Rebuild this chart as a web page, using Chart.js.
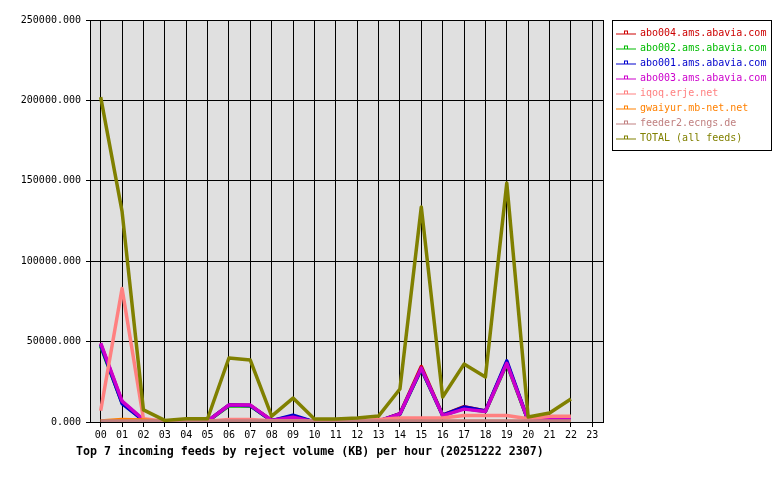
<!DOCTYPE html>
<html>
<head>
<meta charset="utf-8">
<script src="https://cdn.jsdelivr.net/npm/chart.js@4/dist/chart.umd.min.js"></script>
<style>
  html, body { margin: 0; padding: 0; background: #fff; }
  #wrap { width: 780px; height: 480px; }
</style>
</head>
<body>
<div id="wrap"><canvas id="feedChart" width="780" height="480"></canvas></div>
<script>
// hours of the day
const hours = ["00","01","02","03","04","05","06","07","08","09","10","11",
               "12","13","14","15","16","17","18","19","20","21","22","23"];

// reject volume in KB per hour
const abo004 = [48500,12500,1200,0,0,500,10500,10300,900,3500,0,0,0,500,5200,34500,4300,9500,6800,37000,900,1200,1200,null];
const abo002 = [47000,12000,1000,0,0,400,10000,10000,800,3000,0,0,0,400,4800,33000,4000,8500,6500,36000,800,1000,1000,null];
const abo001 = [48000,11500,1000,0,0,500,10500,10200,800,4200,0,0,0,500,5000,33000,4200,9300,6800,38000,800,1000,1000,null];
const abo003 = [49000,13000,1500,0,0,500,10500,10500,1000,3000,0,0,0,500,5000,33500,4000,8000,6500,36500,1000,2500,2500,null];
const iqoq = [7000,83000,2000,500,500,500,1500,1500,800,800,500,500,500,1500,2500,2500,2500,4000,4000,4000,2000,3500,3500,null];
const gwaiyur = [600,1500,1200,200,100,100,200,200,100,100,100,100,100,200,300,300,300,300,300,300,200,300,300,null];
const feeder2 = [600,600,600,600,600,600,600,600,600,600,600,600,600,600,600,600,600,600,600,600,600,600,600,null];
const total = [202000,131000,7500,1000,2000,2000,39800,38500,3700,14900,1900,1900,2500,3700,20500,133700,15500,36000,28000,148600,3100,5600,14300,null];

const yTicks = [0, 50000, 100000, 150000, 200000, 250000];

const titleText = "Top 7 incoming feeds by reject volume (KB) per hour (20251222 2307)";

const series = [
  { label: "abo004.ams.abavia.com", data: abo004, color: "#cc0000" },
  { label: "abo002.ams.abavia.com", data: abo002, color: "#00bb00" },
  { label: "abo001.ams.abavia.com", data: abo001, color: "#0000cc" },
  { label: "abo003.ams.abavia.com", data: abo003, color: "#cc00cc" },
  { label: "iqoq.erje.net", data: iqoq, color: "#ff8080" },
  { label: "gwaiyur.mb-net.net", data: gwaiyur, color: "#ff8000" },
  { label: "feeder2.ecngs.de", data: feeder2, color: "#c08080" },
  { label: "TOTAL (all feeds)", data: total, color: "#808000" }
];

// little line-with-square legend marker
function makeMarker(color) {
  const c = document.createElement("canvas");
  c.width = 29; c.height = 7;
  const g = c.getContext("2d");
  g.fillStyle = color;
  g.fillRect(9, 4, 20, 1);
  g.strokeStyle = color;
  g.lineWidth = 1;
  g.strokeRect(17.5, 1.5, 3, 3);
  return c;
}
const markers = series.map(s => makeMarker(s.color));

Chart.defaults.font.family = "'DejaVu Sans Mono', monospace";
Chart.defaults.font.size = 10;
Chart.defaults.color = "#000";

const frame = {
  id: "frame",
  beforeDraw(chart) {
    const { ctx, chartArea: a } = chart;
    ctx.save();
    ctx.fillStyle = "#e0e0e0";
    ctx.fillRect(a.left, a.top, a.right - a.left, a.bottom - a.top);
    ctx.restore();
  },
  afterDraw(chart) {
    const { ctx, chartArea: a, legend } = chart;
    ctx.save();
    ctx.strokeStyle = "#000";
    ctx.lineWidth = 1;
    ctx.strokeRect(Math.round(a.left) + 0.5, Math.round(a.top) + 0.5,
                   Math.round(a.right - a.left), Math.round(a.bottom - a.top));
    // legend box
    ctx.strokeRect(Math.round(legend.left) + 9.5, Math.round(legend.top) + 0.5, 159, 130);
    // bottom caption
    ctx.fillStyle = "#000";
    ctx.font = "bold 11.6px 'DejaVu Sans Mono', monospace";
    ctx.textBaseline = "middle";
    ctx.textAlign = "left";
    ctx.fillText(titleText, 76, 452);
    ctx.restore();
  }
};

new Chart(document.getElementById("feedChart"), {
  type: "line",
  data: {
    labels: hours,
    datasets: series.map((s, i) => ({
      label: s.label,
      data: s.data,
      borderColor: s.color,
      backgroundColor: s.color,
      borderWidth: 3.5,
      borderJoinStyle: "round",
      pointRadius: 0,
      tension: 0,
      fill: false,
      order: series.length - 1 - i
    }))
  },
  plugins: [frame],
  options: {
    responsive: false,
    animation: false,
    layout: { padding: { top: 20, right: 3.6, bottom: 0, left: 0 } },
    plugins: {
      tooltip: { enabled: false },
      title: { display: false },
      legend: {
        position: "right",
        align: "start",
        title: { display: true, text: "", padding: 0, font: { size: 2.5 } },
        labels: {
          usePointStyle: true,
          pointStyleWidth: 27,
          boxHeight: 10,
          padding: 5,
          font: { size: 10 },
          sort: (a, b) => a.datasetIndex - b.datasetIndex,
          generateLabels(chart) {
            const items = Chart.defaults.plugins.legend.labels.generateLabels(chart);
            items.forEach(it => {
              it.fontColor = series[it.datasetIndex].color;
              it.pointStyle = markers[it.datasetIndex];
            });
            return items;
          }
        }
      }
    },
    scales: {
      x: {
        type: "category",
        offset: true,
        grid: { color: "#000", lineWidth: 1, offset: false, tickLength: 5, tickColor: "#000" },
        border: { color: "#000", width: 1 },
        ticks: { color: "#000", autoSkip: false, maxRotation: 0, padding: 2 },
        afterFit(scale) { scale.height = 58; }
      },
      y: {
        min: 0,
        max: 250000,
        afterBuildTicks(scale) { scale.ticks = yTicks.map(v => ({ value: v })); },
        grid: { color: "#000", lineWidth: 1, tickLength: 4, tickColor: "#000" },
        border: { color: "#000", width: 1 },
        ticks: { color: "#000", padding: 5, callback: v => v.toFixed(3) },
        afterFit(scale) { scale.width = 90; }
      }
    }
  }
});
</script>
</body>
</html>
